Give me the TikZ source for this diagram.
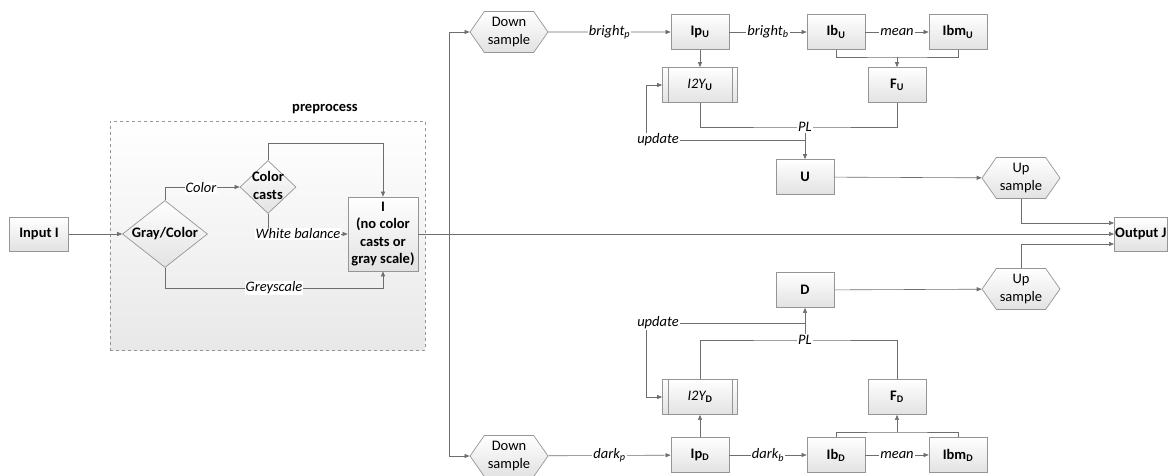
\documentclass[tikz,border=0pt]{standalone}
\usepackage{fontspec}
\setmainfont{Carlito}
\usetikzlibrary{shapes.geometric,shapes.symbols,arrows.meta}
\definecolor{lnc}{HTML}{6E6E6E}
\definecolor{bdc}{HTML}{959595}
\definecolor{shc}{HTML}{E2E2E2}
\begin{document}
\begin{tikzpicture}[x=1pt,y=-1pt,
  boxs/.style={rectangle, draw=bdc, line width=0.7pt, top color=white, bottom color=shc, minimum width=58pt, minimum height=35pt, inner sep=2pt, font=\bfseries\fontsize{14.5}{17.5}\selectfont, align=center},
  hex/.style={signal, signal to=east and west, signal pointer angle=110, draw=bdc, line width=0.7pt, top color=white, bottom color=shc, minimum width=78pt, minimum height=41pt, inner sep=1pt, font=\fontsize{14.5}{17.5}\selectfont, align=center},
  dia/.style={diamond, draw=bdc, line width=0.7pt, top color=white, bottom color=shc, inner sep=0pt, font=\bfseries\fontsize{14.5}{17.5}\selectfont},
  wire/.style={draw=lnc, line width=0.6pt},
  arr/.style={wire, -{Triangle[length=5pt,width=4pt]}},
  lbl/.style={fill=white, inner sep=1pt, font=\itshape\fontsize{14.5}{17.5}\selectfont},
]
\useasboundingbox (0,0) rectangle (1168,475);
% preprocess frame
\node[draw=bdc, dashed, line width=0.7pt, top color=white, bottom color=black!9, minimum width=315pt, minimum height=229pt, inner sep=0pt] (pre) at (267.5,235.5) {};
\node[font=\bfseries\fontsize{14.5}{17.5}\selectfont] (prelbl) at (325,109) {preprocess};
% left part
\node[boxs, minimum width=59pt, minimum height=34pt] (in) at (39,234) {Input I};
\node[dia, minimum width=85pt, minimum height=67pt] (gc) at (165,234) {\makebox[0pt]{Gray/Color}};
\node[dia, minimum width=56pt, minimum height=53pt] (cc) at (268,187) {\makebox[0pt]{\begin{tabular}{@{}c@{}}Color\\casts\end{tabular}}};
\node[boxs, minimum width=70pt, minimum height=74pt] (I) at (383,234) {I\\(no color\\casts or\\gray scale)};
\node[boxs, anchor=west, minimum width=53pt, minimum height=34pt, inner xsep=0.5pt] (out) at (1114,234) {Output J};
% hexagons
\node[hex] (dsU) at (509,32) {Down\\sample};
\node[hex] (dsD) at (509,456) {Down\\sample};
\node[hex] (upU) at (1021,178) {Up\\sample};
\node[hex] (upD) at (1021,289) {Up\\sample};
% upper branch
\node[boxs] (IpU) at (700,32) {Ip\textsubscript{U}};
\node[boxs] (IbU) at (836,32) {Ib\textsubscript{U}};
\node[boxs] (IbmU) at (958,32) {Ibm\textsubscript{U}};
\node[boxs, minimum width=75pt] (I2YU) at (700,85) {{\mdseries\itshape I2Y}\textsubscript{U}};
\node[boxs] (FU) at (897,85) {F\textsubscript{U}};
\node[boxs] (U) at (805,177) {U};
% lower branch
\node[boxs] (D) at (805,290) {D};
\node[boxs, minimum width=75pt] (I2YD) at (700,397) {{\mdseries\itshape I2Y}\textsubscript{D}};
\node[boxs] (FD) at (897,397) {F\textsubscript{D}};
\node[boxs] (IpD) at (700,455) {Ip\textsubscript{D}};
\node[boxs] (IbD) at (836,455) {Ib\textsubscript{D}};
\node[boxs] (IbmD) at (958,455) {Ibm\textsubscript{D}};
% predefined process side bars
\foreach \n in {I2YU,I2YD}{
  \draw[draw=bdc, line width=0.7pt] ([xshift=6pt]\n.north west) -- ([xshift=6pt]\n.south west);
  \draw[draw=bdc, line width=0.7pt] ([xshift=-6pt]\n.north east) -- ([xshift=-6pt]\n.south east);
}
% coordinates
\coordinate (ccTop) at (268,143);
\coordinate (gcBot) at (165,288);
\coordinate (sp) at (449,234);
\coordinate (jU) at (897,57);
\coordinate (plU) at (805,127);
\coordinate (uU) at (805,140);
\coordinate (uUc) at (646,140);
\coordinate (jD) at (897,432);
\coordinate (plD) at (805,340);
\coordinate (uD) at (805,323);
\coordinate (uDc) at (646,323);
\coordinate (o1) at ([yshift=11pt]out.west);
\coordinate (o3) at ([yshift=-10pt]out.west);
% connectors preprocess
\draw[arr] (in) -- (gc);
\draw[arr] (gc.north) |- (cc.west);
\draw[arr] (cc.north) -- (ccTop) -| (I.north);
\draw[arr] (cc.south) |- (I.west);
\draw[arr] (gc.south) -- (gcBot) -| (I.south);
\draw[arr] (I.east) -- (out.west);
\draw[arr] (sp) |- (dsU.west);
\draw[arr] (sp) |- (dsD.west);
% upper connectors
\draw[arr] (dsU) -- node[lbl]{bright\textsubscript{p}} (IpU);
\draw[arr] (IpU) -- node[lbl]{bright\textsubscript{b}} (IbU);
\draw[arr] (IbU) -- node[lbl]{mean} (IbmU);
\draw[arr] (IpU) -- (I2YU);
\draw[wire] (IbU.south) |- (jU) -| (IbmU.south);
\draw[arr] (jU) -- (FU);
\draw[wire] (I2YU.south) |- (plU) -| (FU.south);
\draw[arr] (plU) -- (U);
\draw[arr] (uU) -- (uUc) |- (I2YU.west);
\draw[arr] (U) -- (upU);
\draw[arr] (upU.south) |- (o1);
% lower connectors
\draw[arr] (dsD) -- node[lbl]{dark\textsubscript{p}} (IpD);
\draw[arr] (IpD) -- node[lbl]{dark\textsubscript{b}} (IbD);
\draw[arr] (IbD) -- node[lbl]{mean} (IbmD);
\draw[arr] (IpD) -- (I2YD);
\draw[wire] (IbD.north) |- (jD) -| (IbmD.north);
\draw[arr] (jD) -- (FD);
\draw[wire] (I2YD.north) |- (plD) -| (FD.north);
\draw[arr] (plD) -- (D);
\draw[arr] (uD) -- (uDc) |- (I2YD.west);
\draw[arr] (D) -- (upD);
\draw[arr] (upD.north) |- (o3);
% labels
\node[lbl] (lcolor) at (201,188) {Color};
\node[lbl] (lwb) at (298,234) {White balance};
\node[lbl] (lgs) at (274,288) {Greyscale};
\node[lbl] (lplU) at (plU) {PL};
\node[lbl] (lplD) at (plD) {PL};
\node[lbl] (lupU) at (658,140) {update};
\node[lbl] (lupD) at (658,323) {update};
\end{tikzpicture}
\end{document}
